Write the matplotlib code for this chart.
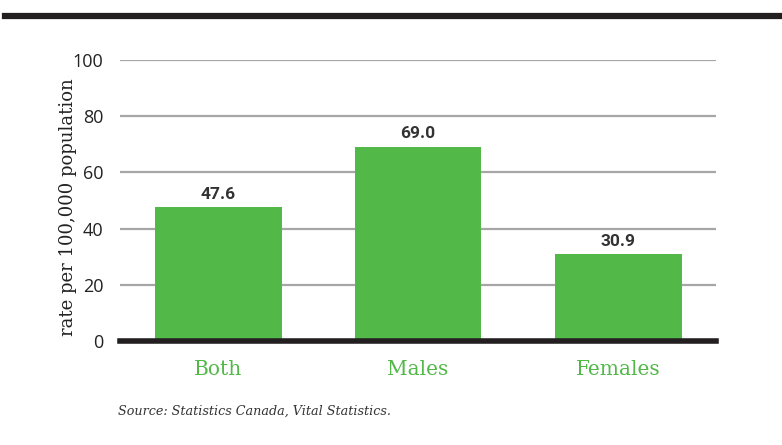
import matplotlib
matplotlib.use("Agg")
import matplotlib.pyplot as plt
from matplotlib.lines import Line2D

# data
categories = ["Both", "Males", "Females"]
rates = [47.6, 69.0, 30.9]
yticks = [0, 20, 40, 60, 80, 100]

GREEN = "#52b848"
GRID = "#a6a6a6"
DARK = "#231f20"

fig = plt.figure(figsize=(7.82, 4.45), dpi=100)
ax = fig.add_axes([120 / 782, 1 - 341 / 445, 596 / 782, 281 / 445])

x = list(range(len(categories)))
ax.bar(x, rates, width=0.635, color=GREEN, zorder=3)

for xi, v in zip(x, rates):
    ax.text(xi, v + 2.0, f"{v:.1f}", ha="center", va="bottom",
            fontsize=12.5, fontweight="bold", color="#333333", family="Roboto")

ax.set_xlim(-0.49, 2.49)
ax.set_ylim(0, 100)
ax.set_yticks(yticks)
ax.set_yticklabels([str(t) for t in yticks], family="Open Sans", fontsize=13, color="#222222")
for t in yticks[1:]:
    ax.axhline(t, color=GRID, lw=1.6, zorder=1)
ax.axhline(0, color=DARK, lw=4, zorder=4, clip_on=False)

ax.set_xticks(x)
ax.set_xticklabels(categories, family="DejaVu Serif", fontsize=14.5, color=GREEN)
ax.tick_params(axis="x", length=0, pad=14)
ax.tick_params(axis="y", length=0, pad=12)

for s in ax.spines.values():
    s.set_visible(False)

ax.set_ylabel("rate per 100,000 population", family="DejaVu Serif",
              fontsize=13, color="#222222")
ax.yaxis.set_label_coords(-0.072, 0.477)

# top rule
fig.add_artist(Line2D([5 / 782, 1.0], [1 - 16 / 445, 1 - 16 / 445],
                      color=DARK, lw=4.5, transform=fig.transFigure))

fig.text(118 / 782, 1 - 411 / 445, "Source: Statistics Canada, Vital Statistics.",
         family="DejaVu Serif", style="italic", fontsize=9.2, color="#333333", va="center")

fig.savefig("out.png", dpi=100)
